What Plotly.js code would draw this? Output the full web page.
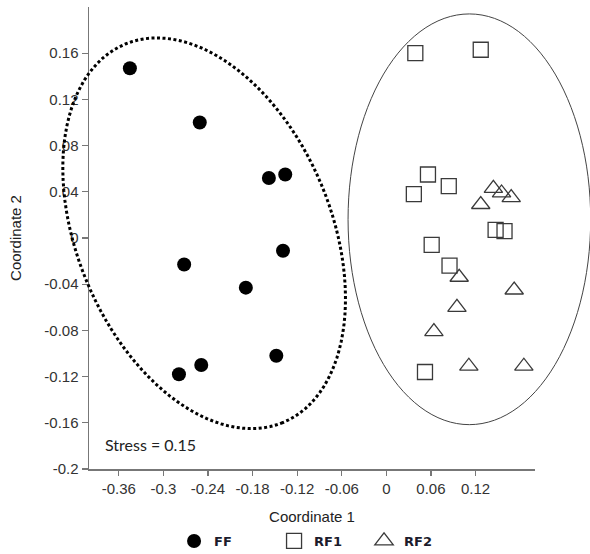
<!DOCTYPE html>
<html>
<head>
<meta charset="utf-8">
<script src="https://cdn.plot.ly/plotly-3.0.1.min.js"></script>
<style>html,body{margin:0;padding:0;background:#fff;}#chart{width:590px;height:554px;}</style>
</head>
<body>
<div id="chart"></div>
<script>
// ---- data ----
const ffX  = [-0.345, -0.251, -0.158, -0.136, -0.139, -0.272, -0.189, -0.148, -0.249, -0.279];
const ffY  = [ 0.147,  0.100,  0.052,  0.055, -0.011, -0.023, -0.043, -0.102, -0.110, -0.118];
const rf1X = [0.039, 0.127, 0.056, 0.037, 0.084, 0.147, 0.159, 0.061, 0.085, 0.052];
const rf1Y = [0.160, 0.163, 0.055, 0.038, 0.045, 0.007, 0.006, -0.006, -0.024, -0.116];
const rf2X = [0.144, 0.155, 0.168, 0.127, 0.098, 0.172, 0.095, 0.064, 0.111, 0.185];
const rf2Y = [0.043, 0.039, 0.035, 0.029, -0.034, -0.045, -0.060, -0.081, -0.111, -0.111];
const groupNames = ['FF', 'RF1', 'RF2'];

const xTickVals = [-0.36, -0.3, -0.24, -0.18, -0.12, -0.06, 0, 0.06, 0.12];
const xTickText = ['-0.36', '-0.3', '-0.24', '-0.18', '-0.12', '-0.06', '0', '0.06', '0.12'];
const yTickVals = [-0.2, -0.16, -0.12, -0.08, -0.04, 0, 0.04, 0.08, 0.12, 0.16];
const yTickText = ['-0.2', '-0.16', '-0.12', '-0.08', '-0.04', '0', '0.04', '0.08', '0.12', '0.16'];
const xRange = [-0.4, 0.2];
const yRange = [-0.2, 0.2];
const stressText = 'Stress = 0.15';

// group ellipses: centre and two half-axis vectors (data units)
const ffEllipse  = {cx: -0.2451, cy: 0.0041, ux: 0.10597, uy: -0.16387, vx: -0.15788, vy: -0.04189};
const rfEllipse  = {cx: 0.1117, cy: 0.0162, ux: 0.1632, uy: 0, vx: 0, vy: 0.1778};

function ellipsePath(e) {
  const n = 120;
  let d = '';
  for (let i = 0; i <= n; i++) {
    const t = 2 * Math.PI * i / n;
    const x = e.cx + e.ux * Math.cos(t) + e.vx * Math.sin(t);
    const y = e.cy + e.uy * Math.cos(t) + e.vy * Math.sin(t);
    const px = (x - xRange[0]) / (xRange[1] - xRange[0]);
    const py = (y - yRange[0]) / (yRange[1] - yRange[0]);
    d += (i === 0 ? 'M' : 'L') + px.toFixed(5) + ',' + py.toFixed(5);
  }
  return d + 'Z';
}

const traces = [
  {x: ffX, y: ffY, name: groupNames[0], type: 'scatter', mode: 'markers', legend: 'legend',
   marker: {symbol: 'circle', size: 14, color: '#000', line: {width: 0}}},
  {x: rf1X, y: rf1Y, name: groupNames[1], type: 'scatter', mode: 'markers', legend: 'legend2',
   marker: {symbol: 'square-open', size: 15, color: '#3a3a3a', line: {width: 1.3}}},
  {x: rf2X, y: rf2Y, name: groupNames[2], type: 'scatter', mode: 'markers', legend: 'legend3',
   marker: {symbol: 'triangle-up-open', size: 16, color: '#3a3a3a', line: {width: 1.3}}}
];

const legFont = {family: 'DejaVu Sans', size: 13, color: '#1c1c2c', weight: 'bold'};
const legBase = {orientation: 'h', yanchor: 'middle', xanchor: 'left', y: 0.0235,
  xref: 'container', yref: 'container',
  font: legFont, bgcolor: 'rgba(0,0,0,0)', borderwidth: 0};

const tickFont = {family: 'Liberation Sans, Arial, sans-serif', size: 15, color: '#333'};
const layout = {
  width: 590, height: 554,
  margin: {l: 89, r: 55, t: 7, b: 85},
  paper_bgcolor: '#fff', plot_bgcolor: 'rgba(0,0,0,0)',
  showlegend: true,
  legend:  Object.assign({}, legBase, {x: 0.295}),
  legend2: Object.assign({}, legBase, {x: 0.4645}),
  legend3: Object.assign({}, legBase, {x: 0.617}),
  xaxis: {
    range: xRange, tickmode: 'array', tickvals: xTickVals, ticktext: xTickText,
    showgrid: false, zeroline: false, showline: true, linecolor: '#777', linewidth: 1.5,
    ticks: 'outside', ticklen: 5, tickcolor: '#777', tickwidth: 1.2,
    tickfont: tickFont, automargin: false,
    title: {text: 'Coordinate 1', font: {family: 'Liberation Sans, Arial, sans-serif', size: 15, color: '#222'}, standoff: 16}
  },
  yaxis: {
    range: yRange, tickmode: 'array', tickvals: yTickVals, ticktext: yTickText,
    showgrid: false, zeroline: false, showline: true, linecolor: '#777', linewidth: 1.5,
    ticks: 'outside', ticklen: 6, tickcolor: '#777', tickwidth: 1.2,
    tickfont: tickFont, automargin: false,
    title: {text: 'Coordinate 2', font: {family: 'Liberation Sans, Arial, sans-serif', size: 15, color: '#222'}, standoff: 19}
  },
  shapes: [
    {type: 'path', xref: 'paper', yref: 'paper', path: ellipsePath(ffEllipse),
     line: {color: '#000', width: 3, dash: '3px,2.5px'}, fillcolor: 'rgba(0,0,0,0)', layer: 'above'},
    {type: 'path', xref: 'paper', yref: 'paper', path: ellipsePath(rfEllipse),
     line: {color: '#444', width: 1}, fillcolor: 'rgba(0,0,0,0)', layer: 'above'}
  ],
  annotations: [
    {text: stressText, xref: 'paper', yref: 'paper', x: 0.031, y: 0.052, xanchor: 'left', yanchor: 'middle',
     showarrow: false, font: {family: 'Lato, Open Sans, sans-serif', size: 16, color: '#222'}}
  ]
};

Plotly.newPlot('chart', traces, layout, {displayModeBar: false, staticPlot: true});
</script>
</body>
</html>
